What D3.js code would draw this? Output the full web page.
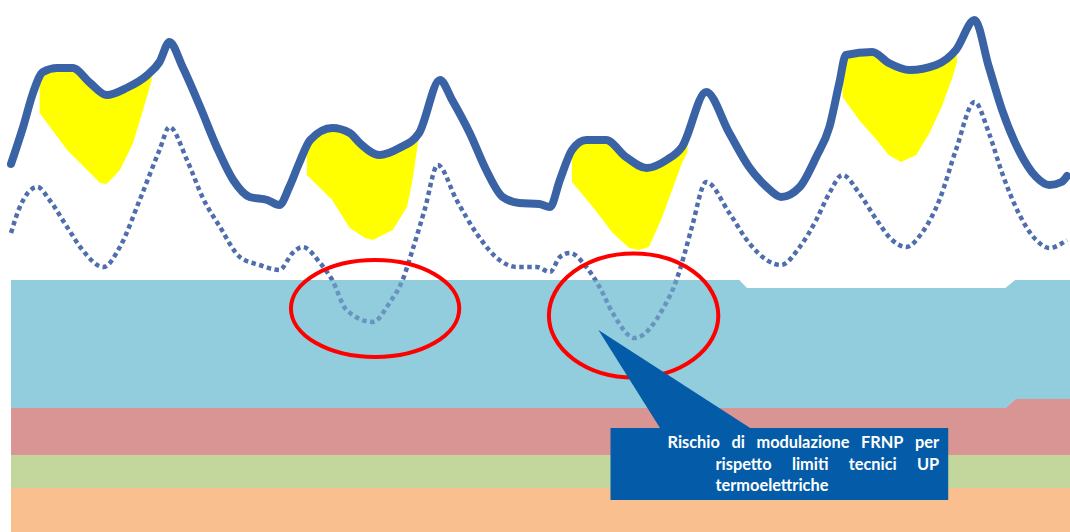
<!DOCTYPE html>
<html>
<head>
<meta charset="UTF-8">
<title>Rischio di modulazione FRNP</title>
<script src="https://cdnjs.cloudflare.com/ajax/libs/d3/7.8.5/d3.min.js"></script>
<style>
  body { margin: 0; background: #fff; }
  svg { display: block; }
</style>
</head>
<body>
<div id="chart"></div>
<script>
// four days on the x axis (hours), values in GW-like units
const loadHours = [0, 1.1, 2.0, 2.9, 4.2, 5.6, 7.2, 8.7, 10.5, 12.4, 13.5, 14.4, 15.6, 17.2, 18.7, 20.2, 21.7, 23.3, 24.4,
  25.3, 26.2, 27.2, 29.2, 30.8, 31.7, 33.5, 35.3, 37.1, 39.0, 40.1, 41.7, 43.2, 44.7, 46.2, 48.0, 49.0,
  49.9, 51.0, 52.3, 54.1, 55.9, 57.8, 59.6, 61.0, 63.2, 65.3, 67.1, 68.7, 70.0, 71.7, 73.2, 74.4, 75.3,
  75.9, 78.3, 79.8, 81.7, 84.1, 85.9, 87.6, 88.9, 90.1, 91.6, 93.2, 94.4, 95.5, 96];
const loadValues = [36.8, 40.5, 43.9, 46.0, 46.4, 46.4, 44.9, 43.7, 44.4, 45.7, 47.0, 49.0, 46.5, 42.5, 38.5, 35.2, 33.5, 33.2, 32.7,
  34.5, 36.9, 39.2, 40.4, 39.9, 38.9, 37.7, 38.4, 39.9, 45.2, 43.2, 39.9, 36.2, 33.5, 32.9, 32.8, 32.5,
  35.2, 38.2, 39.2, 39.2, 37.5, 36.4, 37.2, 38.5, 44.0, 39.9, 36.5, 34.5, 33.5, 34.5, 37.5, 40.5, 44.9,
  47.7, 48.0, 46.9, 46.2, 46.7, 48.2, 51.2, 46.5, 42.2, 38.2, 35.5, 34.7, 35.0, 35.6];

const residualHours = [0, 0.8, 2.4, 3.5, 5.1, 6.5, 8.4, 9.9, 11.7, 13.5, 14.4, 16.0, 17.4, 19.0, 20.8, 22.6, 24.4, 25.6, 26.5,
  28.1, 29.2, 30.5, 32.9, 34.4, 35.6, 36.5, 37.6, 38.8, 40.5, 42.3, 44.4, 46.0, 47.8, 49.0, 49.9, 50.8,
  52.3, 53.5, 54.7, 56.7, 59.2, 60.5, 61.2, 61.9, 63.2, 65.3, 67.1, 68.7, 70.0, 71.7, 73.2, 74.4, 75.6,
  77.1, 78.7, 80.1, 81.4, 82.8, 84.4, 85.9, 87.6, 88.9, 90.1, 91.6, 93.2, 94.4, 96];
const residualValues = [29.9, 32.5, 34.5, 33.2, 30.5, 28.2, 26.5, 28.5, 33.2, 38.2, 40.5, 37.2, 33.5, 30.5, 27.5, 26.7, 26.2, 27.9, 28.5,
  26.9, 25.2, 22.2, 21.0, 22.9, 25.2, 28.2, 32.2, 36.7, 33.2, 29.9, 27.2, 26.5, 26.5, 26.0, 27.5, 27.9,
  26.5, 24.5, 21.9, 19.4, 22.2, 25.2, 27.7, 30.5, 35.0, 31.9, 28.9, 27.2, 26.7, 28.5, 31.2, 33.9, 35.7,
  33.9, 31.2, 29.2, 28.5, 29.9, 33.2, 38.2, 43.0, 39.9, 35.9, 31.9, 29.2, 28.4, 29.2];

// stacked generation bands
const bandHours = [0, 66.2, 66.9, 90.4, 91.3, 96.3];
const orangeBand = [4.4, 4.4, 4.4, 4.4, 4.4, 4.4];
const greenBand = [3.3, 3.3, 3.3, 3.3, 3.3, 3.3];
const redBand = [4.7, 4.7, 4.7, 4.7, 5.6, 5.6];
const blueBand = [12.8, 12.8, 12.0, 12.0, 11.9, 11.9];
const bandKeys = ["orange", "green", "red", "blue"];
const bandColors = ["#fabf8f", "#c3d69b", "#d99594", "#92cddc"];

// yellow surplus shapes (lower outline, clipped under the load curve)
const surplus1Hours = [2.6, 2.6, 5.1, 7.2, 8.1, 8.7, 9.9, 11.1, 12.0, 12.8, 12.8];
const surplus1Values = [50, 41.9, 38.2, 35.9, 34.9, 34.8, 36.2, 38.9, 42.2, 45.2, 50];
const surplus2Hours = [26.9, 26.9, 29.2, 30.8, 32.2, 32.9, 34.7, 36.0, 36.5, 37.0, 37.0];
const surplus2Values = [43.2, 35.7, 33.2, 30.4, 29.4, 29.2, 30.2, 32.5, 35.2, 38.9, 43.2];
const surplus3Hours = [51.0, 51.0, 52.9, 54.7, 56.2, 57.1, 58.0, 59.2, 60.1, 61.0, 61.5, 61.5];
const surplus3Values = [42.2, 35.0, 32.5, 29.9, 28.4, 28.2, 28.5, 31.5, 34.2, 36.9, 38.0, 42.2];
const surplus4Hours = [75.6, 75.6, 77.1, 78.7, 79.8, 80.9, 82.3, 83.5, 84.6, 85.6, 86.0, 86.0];
const surplus4Values = [50.2, 43.5, 41.2, 39.2, 37.7, 37.0, 37.7, 39.9, 42.5, 45.5, 47.0, 50.2];

// red rings
const ringHours = [33.1, 56.6];
const ringValues = [22.35, 21.65];
const ringHalfHours = [7.65, 7.7];
const ringHalfValues = [4.85, 6.2];

// callout
const noteBoxHours = [54.5, 85.2];
const noteBoxValues = [10.4, 3.2];
const notePointer = [[53.4, 20.2], [59.0, 10.4], [67.2, 10.4]];
const noteLines = [["Rischio", "di", "modulazione", "FRNP", "per"], ["rispetto", "limiti", "tecnici", "UP"], ["termoelettriche"]];

const width = 1070, height = 532;
const x = d3.scaleLinear().domain([0, 96]).range([11, 1067]);
const y = d3.scaleLinear().domain([0, 53.2]).range([height, 0]);

const svg = d3.select("#chart").append("svg")
    .attr("width", width)
    .attr("height", height);

const loadPts = loadHours.map((h, i) => [h, loadValues[i]]);
const resPts = residualHours.map((h, i) => [h, residualValues[i]]);

// clip for the yellow areas: everything under the load line
const under = d3.area().x(d => x(d[0])).y0(height).y1(d => y(d[1])).curve(d3.curveMonotoneX);
svg.append("clipPath").attr("id", "underLoad")
    .append("path").attr("d", under(loadPts));

const poly = d3.line().x(d => x(d[0])).y(d => y(d[1])).curve(d3.curveLinearClosed);
const surplus = [
    [surplus1Hours, surplus1Values],
    [surplus2Hours, surplus2Values],
    [surplus3Hours, surplus3Values],
    [surplus4Hours, surplus4Values]
];
svg.append("g").attr("clip-path", "url(#underLoad)")
    .selectAll("path")
    .data(surplus)
    .join("path")
    .attr("d", s => poly(s[0].map((h, i) => [h, s[1][i]])))
    .attr("fill", "#ffff00");

// bands
const rows = bandHours.map((h, i) => ({h: h, orange: orangeBand[i], green: greenBand[i], red: redBand[i], blue: blueBand[i]}));
const series = d3.stack().keys(bandKeys)(rows);
const bandArea = d3.area().x(d => x(d.data.h)).y0(d => y(d[0])).y1(d => y(d[1]));

svg.append("g").selectAll("path")
    .data(series)
    .join("path")
    .attr("d", bandArea)
    .attr("fill", (d, i) => bandColors[i]);

// dotted residual line
const curve = d3.line().x(d => x(d[0])).y(d => y(d[1])).curve(d3.curveMonotoneX);
svg.append("path")
    .attr("d", curve(resPts))
    .attr("fill", "none")
    .attr("stroke", "#4f6eae")
    .attr("stroke-width", 4.5)
    .attr("stroke-dasharray", "4.5,3.5");

// blue band washes over the dotted line a bit
svg.append("path")
    .attr("d", bandArea(series[3]))
    .attr("fill", bandColors[3])
    .attr("opacity", 0.4);

// load line
svg.append("path")
    .attr("d", curve(loadPts))
    .attr("fill", "none")
    .attr("stroke", "#3a63a6")
    .attr("stroke-width", 8)
    .attr("stroke-linejoin", "round")
    .attr("stroke-linecap", "round");

// red rings
svg.append("g").selectAll("ellipse")
    .data(ringHours)
    .join("ellipse")
    .attr("cx", (d, i) => x(d))
    .attr("cy", (d, i) => y(ringValues[i]))
    .attr("rx", (d, i) => x(d + ringHalfHours[i]) - x(d))
    .attr("ry", (d, i) => y(ringValues[i] - ringHalfValues[i]) - y(ringValues[i]))
    .attr("fill", "none")
    .attr("stroke", "#ff0000")
    .attr("stroke-width", 4);

// callout
const noteBlue = "#045ca8";
svg.append("path")
    .attr("d", d3.line().x(d => x(d[0])).y(d => y(d[1])).curve(d3.curveLinearClosed)(notePointer))
    .attr("fill", noteBlue);

const bx0 = x(noteBoxHours[0]), bx1 = x(noteBoxHours[1]);
const by0 = y(noteBoxValues[0]), by1 = y(noteBoxValues[1]);
svg.append("rect")
    .attr("x", bx0).attr("y", by0)
    .attr("width", bx1 - bx0).attr("height", by1 - by0)
    .attr("fill", noteBlue);

const note = svg.append("g")
    .attr("font-family", "Lato, 'Open Sans', sans-serif")
    .attr("font-weight", "bold")
    .attr("fill", "#fff");

// fit font so the last word is as wide as in the picture
let fs = 14;
const probe = note.append("text").attr("font-size", fs).text("termoelettriche");
fs = fs * 113 / probe.node().getComputedTextLength();
probe.remove();

const lineLeft = [bx0 + 57, bx0 + 105, bx0 + 105];
const lineRight = bx1 - 9;
const baselines = [by0 + 20, by0 + 42, by0 + 63];

noteLines.forEach((words, li) => {
    const texts = words.map(w => note.append("text").attr("font-size", fs).attr("y", baselines[li]).text(w));
    const widths = texts.map(t => t.node().getComputedTextLength());
    const total = d3.sum(widths);
    const gap = words.length > 1 && li < noteLines.length - 1 ? (lineRight - lineLeft[li] - total) / (words.length - 1) : 0;
    let cx = lineLeft[li];
    texts.forEach((t, k) => {
        t.attr("x", cx);
        cx += widths[k] + gap;
    });
});
</script>
</body>
</html>
